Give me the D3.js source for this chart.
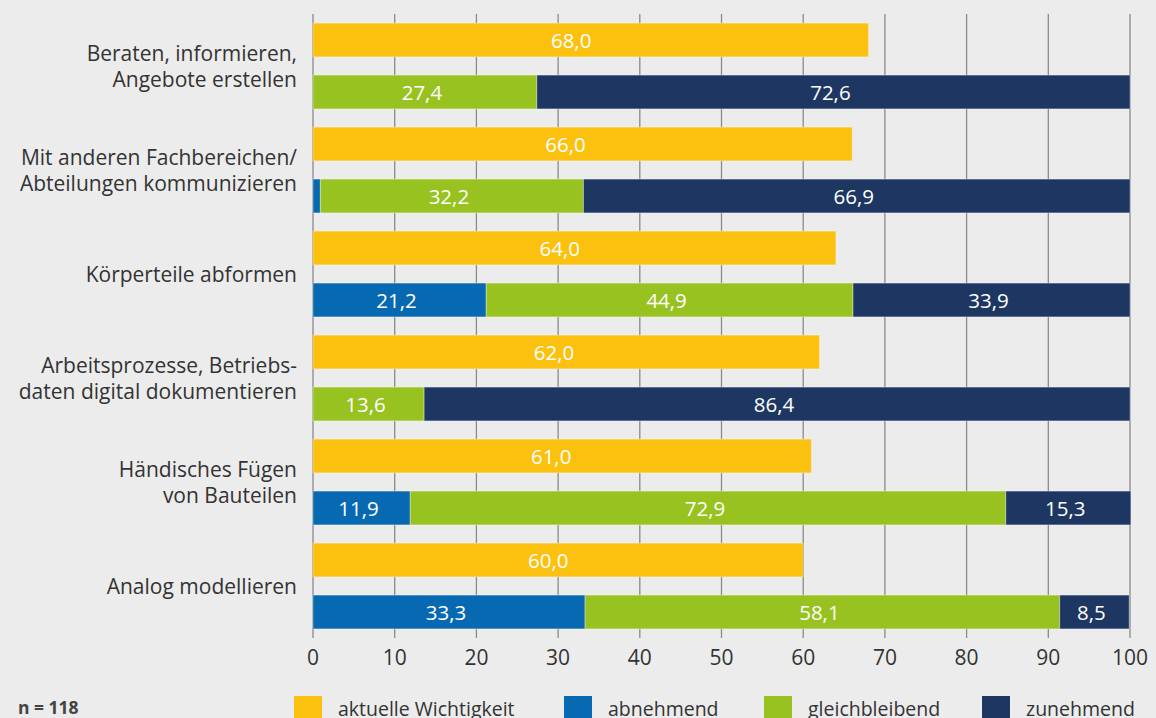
<!DOCTYPE html>
<html>
<head>
<meta charset="utf-8">
<title>Wichtigkeit und Entwicklung</title>
<script src="https://d3js.org/d3.v7.min.js"></script>
<style>
  body { margin: 0; background: #ececec; }
  svg { display: block; font-family: "Open Sans", "Noto Sans", sans-serif; }
</style>
</head>
<body>
<svg id="chart" width="1156" height="718"></svg>
<script>
// data
const categories = [
  ["Beraten, informieren,", "Angebote erstellen"],
  ["Mit anderen Fachbereichen/", "Abteilungen kommunizieren"],
  ["Körperteile abformen"],
  ["Arbeitsprozesse, Betriebs-", "daten digital dokumentieren"],
  ["Händisches Fügen", "von Bauteilen"],
  ["Analog modellieren"]
];
const wichtigkeit    = [68.0, 66.0, 64.0, 62.0, 61.0, 60.0];
const abnehmend      = [0, 0.9, 21.2, 0, 11.9, 33.3];
const gleichbleibend = [27.4, 32.2, 44.9, 13.6, 72.9, 58.1];
const zunehmend      = [72.6, 66.9, 33.9, 86.4, 15.3, 8.5];
const xTicks = [0, 10, 20, 30, 40, 50, 60, 70, 80, 90, 100];
const legendLabels = ["aktuelle Wichtigkeit", "abnehmend", "gleichbleibend", "zunehmend"];

const colors = ["#fbc10e", "#0869b3", "#98c21f", "#1d3762"];

const svg = d3.select("#chart");

const x = d3.scaleLinear().domain([0, 100]).range([313, 1130]);
const y = d3.scaleBand().domain(d3.range(categories.length)).range([14, 638]);
const sub = d3.scaleBand().domain(["imp", "trend"]).range([0, y.bandwidth()])
  .paddingInner(0.35).paddingOuter(0.175);

const fmt = v => d3.format(".1f")(v).replace(".", ",");

// gridlines
svg.append("g").selectAll("line")
  .data(xTicks)
  .join("line")
  .attr("x1", d => x(d)).attr("x2", d => x(d))
  .attr("y1", 14).attr("y2", 638)
  .attr("stroke", "#8a8a8a")
  .attr("stroke-width", 1.3);

// axis labels
svg.append("g").selectAll("text")
  .data(xTicks)
  .join("text")
  .attr("x", d => x(d))
  .attr("y", 665)
  .attr("text-anchor", "middle")
  .attr("font-size", 21)
  .attr("fill", "#333")
  .text(d => d);

const groups = svg.append("g").selectAll("g")
  .data(categories)
  .join("g")
  .attr("transform", (d, i) => "translate(0," + y(i) + ")");

// importance bars
groups.append("rect")
  .attr("x", x(0))
  .attr("y", sub("imp"))
  .attr("width", (d, i) => x(wichtigkeit[i]) - x(0))
  .attr("height", sub.bandwidth())
  .attr("fill", colors[0])
  .attr("stroke", "rgba(255,255,255,0.35)");

// labels sit a little left of the bar centre in the original
groups.append("text")
  .attr("x", (d, i) => x(7.8 + 0.35 * wichtigkeit[i]))
  .attr("y", sub("imp") + sub.bandwidth() / 2 + 7.5)
  .attr("text-anchor", "middle")
  .attr("font-size", 20.5)
  .attr("fill", "#fff")
  .text((d, i) => fmt(wichtigkeit[i]));

// stacked trend bars
const rows = categories.map((c, i) => ({
  abnehmend: abnehmend[i], gleichbleibend: gleichbleibend[i], zunehmend: zunehmend[i]
}));
const stack = d3.stack().keys(["abnehmend", "gleichbleibend", "zunehmend"])(rows);

stack.forEach((layer, k) => {
  groups.append("rect")
    .attr("x", (d, i) => x(layer[i][0]))
    .attr("y", sub("trend"))
    .attr("width", (d, i) => x(layer[i][1]) - x(layer[i][0]))
    .attr("height", sub.bandwidth())
    .attr("fill", colors[k + 1])
    .attr("stroke", "rgba(255,255,255,0.35)");

  groups.append("text")
    .attr("x", (d, i) => x((layer[i][0] + layer[i][1]) / 2) - 3)
    .attr("y", sub("trend") + sub.bandwidth() / 2 + 7.5)
    .attr("text-anchor", "middle")
    .attr("font-size", 20.5)
    .attr("fill", "#fff")
    .text((d, i) => {
      const v = layer[i][1] - layer[i][0];
      return v >= 5 ? fmt(v) : "";
    });
});

// category labels
groups.append("text")
  .attr("text-anchor", "end")
  .attr("font-size", 21)
  .attr("fill", "#333")
  .selectAll("tspan")
  .data(d => d.map((line, j) => ({ line, j, n: d.length })))
  .join("tspan")
  .attr("x", 297)
  .attr("y", d => y.bandwidth() / 2 + 7.5 + (d.j - (d.n - 1) / 2) * 26)
  .text(d => d.line);

// footer
svg.append("text")
  .attr("x", 18).attr("y", 714)
  .attr("font-size", 17.5)
  .attr("font-weight", "bold")
  .attr("fill", "#444")
  .text("n = 118");

const legendX = [294, 564, 764, 982];
const legend = svg.append("g").selectAll("g")
  .data(legendLabels)
  .join("g")
  .attr("transform", (d, i) => "translate(" + legendX[i] + ",696)");
legend.append("rect")
  .attr("width", 28).attr("height", 28)
  .attr("fill", (d, i) => colors[i]);
legend.append("text")
  .attr("x", 44).attr("y", 20)
  .attr("font-size", 19.5)
  .attr("fill", "#333")
  .text(d => d);
</script>
</body>
</html>
